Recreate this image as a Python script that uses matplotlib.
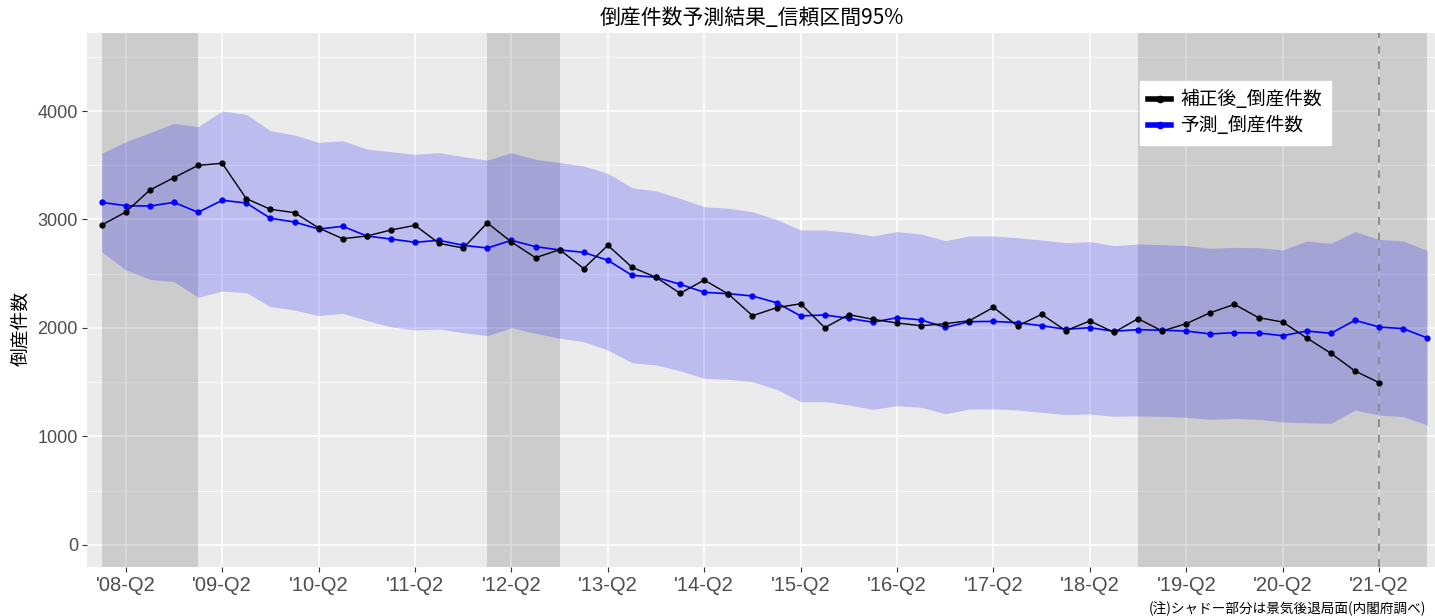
import numpy as np
import matplotlib
matplotlib.use("Agg")
import matplotlib.pyplot as plt
from matplotlib.lines import Line2D

plt.rcParams['font.family'] = ['Liberation Sans', 'Noto Sans CJK JP', 'DejaVu Sans']

# quarters '08-Q1 .. '21-Q4
quarters = [f"'{y:02d}-Q{q}" for y in range(8, 22) for q in range(1, 5)]

# 補正後_倒産件数 ('08-Q1 .. '21-Q2)
actual = [2949, 3069, 3272, 3386, 3499, 3518, 3192, 3094, 3063, 2922,
          2823, 2848, 2903, 2946, 2780, 2737, 2968, 2793, 2648, 2722,
          2548, 2762, 2560, 2467, 2320, 2442, 2313, 2113, 2187, 2224,
          2003, 2123, 2080, 2046, 2021, 2040, 2067, 2190, 2018, 2126,
          1975, 2065, 1960, 2086, 1972, 2040, 2141, 2218, 2095, 2055,
          1908, 1767, 1604, 1496]

# 予測_倒産件数 ('08-Q1 .. '21-Q4)
pred = [3158, 3127, 3124, 3158, 3066, 3177, 3152, 3011, 2977, 2912,
        2937, 2848, 2820, 2790, 2808, 2762, 2737, 2808, 2750, 2719,
        2697, 2624, 2486, 2467, 2403, 2329, 2316, 2295, 2233, 2111,
        2120, 2089, 2053, 2095, 2074, 2006, 2058, 2061, 2049, 2021,
        1988, 2003, 1970, 1985, 1979, 1972, 1945, 1957, 1954, 1929,
        1972, 1951, 2071, 2009, 1994, 1908]

# 95% interval
upper = [3610, 3717, 3800, 3886, 3856, 4000, 3969, 3818, 3779, 3711,
         3726, 3650, 3625, 3601, 3616, 3579, 3548, 3616, 3555, 3524,
         3493, 3426, 3293, 3263, 3195, 3118, 3103, 3072, 3000, 2903,
         2903, 2882, 2848, 2888, 2866, 2805, 2848, 2848, 2832, 2811,
         2786, 2796, 2759, 2774, 2768, 2760, 2734, 2743, 2740, 2719,
         2802, 2780, 2888, 2817, 2802, 2713]
lower = [2703, 2535, 2449, 2427, 2283, 2341, 2326, 2197, 2166, 2114,
         2135, 2070, 2010, 1982, 1991, 1957, 1929, 2003, 1951, 1905,
         1874, 1797, 1680, 1659, 1606, 1536, 1527, 1505, 1435, 1321,
         1321, 1290, 1250, 1284, 1269, 1210, 1253, 1256, 1244, 1223,
         1201, 1207, 1186, 1190, 1185, 1177, 1158, 1167, 1158, 1134,
         1127, 1121, 1244, 1198, 1183, 1106]

tick_labels = ["'08-Q2", "'09-Q2", "'10-Q2", "'11-Q2", "'12-Q2", "'13-Q2", "'14-Q2",
               "'15-Q2", "'16-Q2", "'17-Q2", "'18-Q2", "'19-Q2", "'20-Q2", "'21-Q2"]
recessions = [("'08-Q1", "'09-Q1"), ("'12-Q1", "'12-Q4"), ("'18-Q4", "'21-Q4")]
last_actual = "'21-Q2"

x_all = np.arange(len(pred))
x_act = np.arange(len(actual))

fig = plt.figure(figsize=(14.35, 6.16), dpi=100)
W, H = 1435, 616
ax = fig.add_axes([87 / W, (H - 567) / H, (1435 - 87) / W, (567 - 33) / H])
ax.set_facecolor('#ebebeb')

# recession shading
for s, e in recessions:
    ax.axvspan(quarters.index(s), quarters.index(e), color='black', alpha=0.13, lw=0, zorder=1)

ax.fill_between(x_all, lower, upper, color='blue', alpha=0.2, lw=0, zorder=2)
ax.axvline(quarters.index(last_actual), color='#8c8c8c', ls=(0, (4, 4)), lw=1.4, zorder=3)

ax.plot(x_act, actual, color='black', lw=1.0, marker='o', ms=3.5, zorder=5)
ax.plot(x_all, pred, color='blue', lw=1.2, marker='o', ms=3.5, zorder=4)

ax.set_xlim(-0.61, 55.32)
ax.set_ylim(-203, 4719)
ax.set_xticks([quarters.index(t) for t in tick_labels])
ax.set_xticklabels(tick_labels)
ax.set_yticks([0, 1000, 2000, 3000, 4000])
ax.set_yticks([500, 1500, 2500, 3500, 4500], minor=True)
ax.set_axisbelow(True)
ax.grid(True, which='major', color='white', lw=1.1)
ax.grid(True, which='minor', axis='y', color='white', lw=0.5)
ax.tick_params(axis='both', which='major', colors='#333333', labelcolor='#4d4d4d',
               length=3.5, width=0.8, pad=3)
ax.tick_params(axis='x', which='major', labelsize=14.5)
ax.tick_params(axis='y', which='major', labelsize=13)
ax.tick_params(axis='y', which='minor', length=0)
for sp in ax.spines.values():
    sp.set_visible(False)

ax.set_ylabel('倒産件数', fontsize=13.5, family=['Noto Sans CJK JP'])
ax.yaxis.set_label_coords(-0.041, 0.446)
fig.text(752 / W, 1 - 18 / H, '倒産件数予測結果_信頼区間95%', ha='center', va='center',
         fontsize=15, family=['Noto Sans CJK JP'])

handles = [Line2D([], [], color='black', lw=4, marker='o', ms=4.5),
           Line2D([], [], color='blue', lw=4, marker='o', ms=4.5)]
leg = ax.legend(handles, ['補正後_倒産件数', '予測_倒産件数'], loc='upper left',
                bbox_to_anchor=((1140 - 87) / (1435 - 87), (567 - 81) / (567 - 33)),
                borderaxespad=0, frameon=True, fancybox=False, edgecolor='white', framealpha=1,
                prop={'family': ['Noto Sans CJK JP'], 'size': 13.5},
                handlelength=1.2, handletextpad=0.5, borderpad=0.45, labelspacing=0.25)

fig.text(1149 / W, 1 - 609 / H, '(注)シャドー部分は景気後退局面(内閣府調べ)', ha='left', va='center',
         fontsize=9.8, family=['Noto Sans CJK JP'])

fig.savefig('out.png', dpi=100)
